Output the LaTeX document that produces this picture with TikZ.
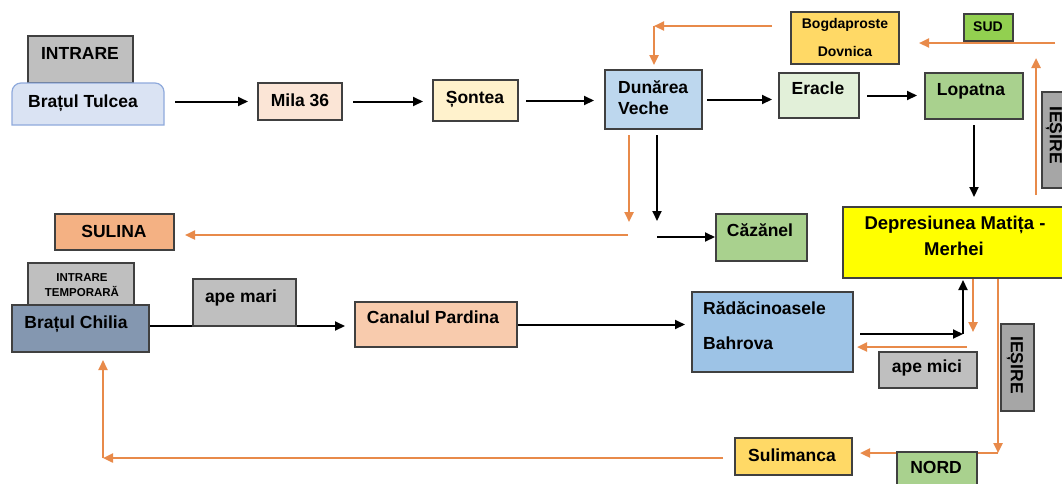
\documentclass[tikz,border=0pt]{standalone}
\usepackage{fontspec}
\setmainfont{Liberation Sans}
\usetikzlibrary{arrows.meta,calc,backgrounds}
\definecolor{orgC}{HTML}{E88A4A}
\definecolor{grayA}{HTML}{BFBFBF}
\definecolor{grayB}{HTML}{A6A6A6}
\definecolor{milaC}{HTML}{FBE5D6}
\definecolor{sonteaC}{HTML}{FFF2CC}
\definecolor{dunC}{HTML}{BDD7EE}
\definecolor{eracleC}{HTML}{E2F0D9}
\definecolor{lopC}{HTML}{A9D18E}
\definecolor{bogC}{HTML}{FFD966}
\definecolor{sudC}{HTML}{92D050}
\definecolor{depC}{HTML}{FFFF00}
\definecolor{sulC}{HTML}{F4B183}
\definecolor{chiliaC}{HTML}{8497B0}
\definecolor{canalC}{HTML}{F8CBAD}
\definecolor{radC}{HTML}{9DC3E6}
\definecolor{tulC}{HTML}{DAE3F3}
\definecolor{tulB}{HTML}{8FAADC}
\definecolor{edgeC}{HTML}{404040}
\newcommand{\mkbox}[6]{\node[box,fill=#6,minimum width={(#4-#2)*1pt},minimum height={(#5-#3)*1pt},anchor=north west] (#1) at (#2,#3) {};}
\begin{document}
\begin{tikzpicture}[x=1pt,y=-1pt,
  box/.style={rectangle,draw=edgeC,line width=1.2pt,inner sep=0pt,outer sep=0pt},
  t/.style={font=\bfseries\fontsize{17.5}{20}\selectfont,inner sep=0pt,text height=12.5pt,text depth=0pt},
  tl/.style={font=\bfseries\fontsize{18.5}{21}\selectfont,inner sep=0pt,text height=13.2pt,text depth=0pt},
  ts/.style={font=\bfseries\fontsize{14}{16}\selectfont,inner sep=0pt,text height=10pt,text depth=0pt},
  tx/.style={font=\bfseries\fontsize{11.5}{13}\selectfont,inner sep=0pt,text height=8.2pt,text depth=0pt},
  blk/.style={draw=black,line width=2pt,-{Triangle[length=10pt,width=9pt]}},
  orng/.style={draw=orgC,line width=2.3pt,-{Triangle[length=10pt,width=9pt]}}]
\useasboundingbox (0,0) rectangle (1062,483);

% boxes
\mkbox{intrare}{28}{36}{133}{83}{grayA}
\node[inner sep=0pt,outer sep=0pt,minimum width=152pt,minimum height=42pt,anchor=north west] (tulcea) at (12,83) {};
\draw[draw=tulB,fill=tulC,line width=1.2pt] (12,125) -- (12,92) arc[start angle=180,end angle=270,radius=9] -- (155,83) arc[start angle=270,end angle=360,radius=9] -- (164,125) -- cycle;
\mkbox{mila}{258}{83}{342}{120}{milaC}
\mkbox{sontea}{433}{80}{518}{121}{sonteaC}
\mkbox{dunarea}{605}{70}{702}{129}{dunC}
\mkbox{eracle}{779}{73}{859}{118}{eracleC}
\mkbox{lopatna}{925}{73}{1023}{119}{lopC}
\mkbox{bog}{791}{12}{899}{64}{bogC}
\mkbox{sud}{964}{14}{1013}{41}{sudC}
\mkbox{iesireA}{1042}{92}{1075}{188}{grayB}
\mkbox{dep}{843}{207}{1075}{278}{depC}
\mkbox{caz}{716}{214}{807}{261}{lopC}
\mkbox{sulina}{55}{214}{174}{250}{sulC}
\mkbox{intrT}{28}{263}{134}{305}{grayA}
\mkbox{chilia}{12}{305}{149}{352}{chiliaC}
\mkbox{apemari}{193}{279}{296}{326}{grayA}
\mkbox{canal}{355}{302}{517}{347}{canalC}
\mkbox{rad}{692}{292}{853}{372}{radC}
\mkbox{apemici}{879}{352}{977}{388}{grayA}
\mkbox{iesireB}{1001}{324}{1034}{411}{grayB}
\mkbox{sulim}{735}{438}{852}{475}{bogC}
\mkbox{nord}{897}{452}{977}{487}{lopC}

% texts
\node[t] (tIntrare) at (80,53) {INTRARE};
\node[t] (tTulcea) at (83,101) {Brațul Tulcea};
\node[t] (tMila) at (300,100) {Mila 36};
\node[t] (tSontea) at (475,97) {Șontea};
\node[t,anchor=west] (tDun1) at (618,87) {Dunărea};
\node[t,anchor=west] (tDun2) at (618,108) {Veche};
\node[t] (tEracle) at (818,88) {Eracle};
\node[t] (tLop) at (971,89) {Lopatna};
\node[ts] (tBog1) at (845,23) {Bogdaproste};
\node[ts] (tBog2) at (845,51) {Dovnica};
\node[ts] (tSud) at (988,26) {SUD};
\node[t,rotate=-90] (tIesA) at (1056,135) {IEȘIRE};
\node[tl] (tDep1) at (955,223) {Depresiunea Matița -};
\node[tl] (tDep2) at (954,249) {Merhei};
\node[t] (tCaz) at (760,230) {Căzănel};
\node[t] (tSulina) at (114,231) {SULINA};
\node[tx] (tIT1) at (82,277) {INTRARE};
\node[tx] (tIT2) at (82,292) {TEMPORARĂ};
\node[t] (tChilia) at (76,322) {Brațul Chilia};
\node[t] (tApeMari) at (241,296) {ape mari};
\node[t] (tCanal) at (433,317) {Canalul Pardina};
\node[t,anchor=west] (tRad1) at (703,308) {Rădăcinoasele};
\node[t,anchor=west] (tRad2) at (703,343) {Bahrova};
\node[t] (tApeMici) at (927,366) {ape mici};
\node[t,rotate=-90] (tIesB) at (1017,365) {IEȘIRE};
\node[t] (tSulim) at (792,455) {Sulimanca};
\node[t] (tNord) at (936,467) {NORD};

% connectors
\coordinate (upE) at (1036,58);
\coordinate (sudR) at (1055,43);
\coordinate (bogL) at (772,26);
\coordinate (dvC) at (654,26);
\coordinate (oD) at (629,222);
\coordinate (oH) at (628,235);
\coordinate (bD) at (657,221);
\coordinate (bH) at (657,237);
\coordinate (jn) at (963,334);
\coordinate (oV) at (973,332);
\coordinate (apeR) at (967,347);
\coordinate (nC) at (998,453);
\coordinate (cC) at (103,458);

\begin{pgfonlayer}{background}
\fill[white] (0,0) rectangle (1062,483);
\draw[blk,shorten <=11pt,shorten >=10pt] (tulcea.east |- mila.west) -- (mila.west);
\draw[blk,shorten <=11pt,shorten >=10pt] (mila.east) -- (mila.east -| sontea.west);
\draw[blk,shorten <=8pt,shorten >=11pt] (sontea.east) -- (sontea.east -| dunarea.west);
\draw[blk,shorten <=5pt,shorten >=7pt] (dunarea.east) -- (dunarea.east -| eracle.west);
\draw[blk,shorten <=8pt,shorten >=8pt] (eracle.east) -- (eracle.east -| lopatna.west);
\draw[blk,shorten <=6pt,shorten >=10pt] (lopatna.south) -- (lopatna.south |- dep.north);
\draw[orng,shorten <=12pt] (dep.north -| upE) -- (upE);
\draw[orng,shorten >=20pt] (sudR) -- (sudR -| bog.east);
\draw[orng] (bogL) -- (dvC);
\draw[orng,shorten >=5pt] (dvC) -- (dvC |- dunarea.north);
\draw[orng,shorten <=6pt] (dunarea.south -| oD) -- (oD);
\draw[orng,shorten >=11pt] (oH) -- (oH -| sulina.east);
\draw[blk,shorten <=6pt] (dunarea.south -| bD) -- (bD);
\draw[blk,shorten >=1pt] (bH) -- (bH -| caz.west);
\draw[blk,shorten >=10pt] (chilia.east |- apemari.south) -- (apemari.south -| canal.west);
\draw[blk,shorten >=7pt] (canal.east) -- (canal.east -| rad.west);
\draw[blk,shorten <=7pt] (rad.east |- jn) -- (jn);
\draw[blk,shorten >=2pt] (jn) -- (jn |- dep.south);
\draw[orng] (dep.south -| oV) -- (oV);
\draw[orng,shorten >=4pt] (apeR) -- (apeR -| rad.east);
\draw[orng] (dep.south -| nC) -- (nC);
\draw[orng,shorten >=8pt] (nC) -- (nC -| sulim.east);
\draw[orng,shorten <=12pt] (sulim.west |- cC) -- (cC);
\draw[orng,shorten >=8pt] (cC) -- (cC |- chilia.south);
\end{pgfonlayer}
\end{tikzpicture}
\end{document}
